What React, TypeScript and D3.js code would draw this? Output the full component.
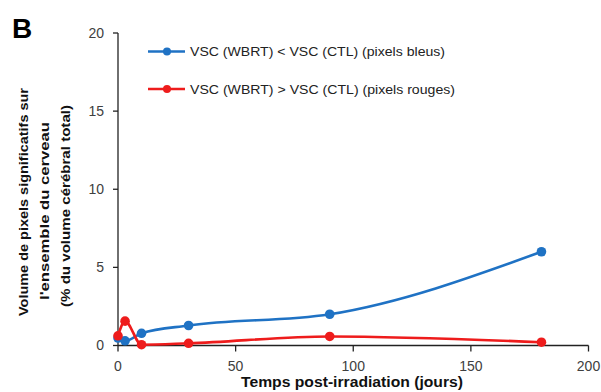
import React from "react";
import * as d3 from "d3";

const days = [0, 3, 10, 30, 90, 180];
const blueValues = [0.48, 0.3, 0.78, 1.28, 2.0, 6.0];
const redValues = [0.62, 1.56, 0.05, 0.14, 0.58, 0.21];
const xTicks = [0, 50, 100, 150, 200];
const yTicks = [0, 5, 10, 15, 20];
const legendLabels = [
  "VSC (WBRT) < VSC (CTL) (pixels bleus)",
  "VSC (WBRT) > VSC (CTL) (pixels rouges)",
];
const yTitleLines = [
  "Volume de  pixels significatifs sur",
  "l'ensemble du cerveau",
  "(% du volume cérébral total)",
];
const xTitle = "Temps post-irradiation (jours)";

const BLUE = "#1f72c4";
const RED = "#ee1c1c";
const AXIS = "#222";
const FONT = "'Liberation Sans', Arial, sans-serif";

export default function App() {
  const x = d3.scaleLinear().domain([0, 200]).range([118, 588.5]);
  const y = d3.scaleLinear().domain([0, 20]).range([345.5, 33]);
  const line = d3
    .line<number>()
    .x((_, i) => x(days[i]))
    .y((d) => y(d))
    .curve(d3.curveMonotoneX);

  const series = [
    { values: blueValues, color: BLUE },
    { values: redValues, color: RED },
  ];

  return (
    <svg
      width={601}
      height={392}
      style={{ position: "absolute", left: 0, top: 0, background: "#fff" }}
      fontFamily={FONT}
    >
      <rect width={601} height={392} fill="#fff" />
      <text x={12} y={38} fontSize={28} fontWeight="bold" fill="#000">
        B
      </text>

      {/* axes */}
      <line x1={x(0)} x2={x(0)} y1={y(0)} y2={y(20)} stroke={AXIS} strokeWidth={1.3} />
      <line x1={x(0)} x2={x(200)} y1={y(0)} y2={y(0)} stroke={AXIS} strokeWidth={1.3} />
      {yTicks.map((t) => (
        <g key={"y" + t}>
          <line x1={x(0) - 5} x2={x(0)} y1={y(t)} y2={y(t)} stroke={AXIS} strokeWidth={1.3} />
          <text
            x={104}
            y={y(t)}
            dy="0.35em"
            textAnchor="end"
            fontSize={14}
            fill="#404040"
          >
            {t}
          </text>
        </g>
      ))}
      {xTicks.map((t) => (
        <g key={"x" + t}>
          <line x1={x(t)} x2={x(t)} y1={y(0)} y2={y(0) + 6} stroke={AXIS} strokeWidth={1.3} />
          <text x={x(t)} y={371} textAnchor="middle" fontSize={14} fill="#404040">
            {t}
          </text>
        </g>
      ))}

      {/* titles */}
      <text
        x={352}
        y={387}
        textAnchor="middle"
        fontSize={14}
        fontWeight="bold"
        fill="#111"
        textLength={222}
        lengthAdjust="spacingAndGlyphs"
      >
        {xTitle}
      </text>
      {yTitleLines.map((s, i) => (
        <text
          key={s}
          transform={`translate(${28 + i * 21},${[202, 211, 206][i]}) rotate(-90)`}
          textAnchor="middle"
          fontSize={13}
          fontWeight="bold"
          fill="#111"
          textLength={[228, 178, 202][i]}
          lengthAdjust="spacingAndGlyphs"
        >
          {s}
        </text>
      ))}

      {/* series */}
      {series.map((s) => (
        <g key={s.color}>
          <path d={line(s.values) || ""} fill="none" stroke={s.color} strokeWidth={2.6} />
          {s.values.map((v, i) => (
            <circle key={i} cx={x(days[i])} cy={y(v)} r={4.8} fill={s.color} />
          ))}
        </g>
      ))}

      {/* legend */}
      {series.map((s, i) => {
        const ly = 51.5 + i * 37.5;
        return (
          <g key={"lg" + i}>
            <line x1={148} x2={185} y1={ly} y2={ly} stroke={s.color} strokeWidth={2.6} />
            <circle cx={167} cy={ly} r={4} fill={s.color} />
            <text
              x={190}
              y={ly}
              dy="0.35em"
              fontSize={13}
              fill="#222"
              textLength={i === 0 ? 255 : 265}
              lengthAdjust="spacingAndGlyphs"
            >
              {legendLabels[i]}
            </text>
          </g>
        );
      })}
    </svg>
  );
}
